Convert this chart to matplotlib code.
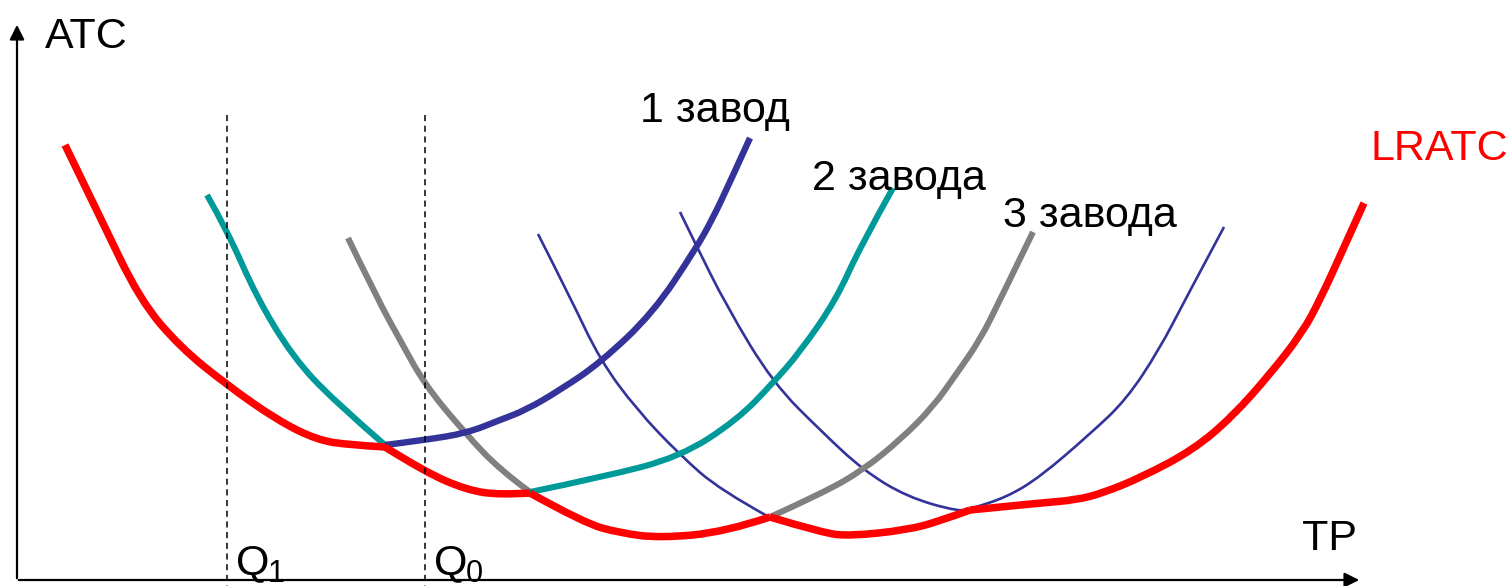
import matplotlib.pyplot as plt
from matplotlib.path import Path
from matplotlib.patches import PathPatch

# curve points (x = output, y = cost, screen units, y grows downward)
lratc_x = [65, 100, 140, 180, 227, 277, 317, 350, 385, 425, 467, 500, 530, 584, 620, 660,
           725, 770, 823, 850, 907, 940, 970, 1040, 1076, 1103, 1142, 1193, 1232, 1271, 1302,
           1320, 1345, 1364]
lratc_y = [145, 217, 300, 347, 385, 420, 440, 445, 447, 472, 490, 495, 493, 523, 533, 538,
           532, 517, 533, 536, 530, 521, 510, 503, 500, 493, 477, 450, 417, 373, 333,
           300, 245, 203]
# where the envelope touches the short-run curves
touch_x = [385, 530, 770, 970]

plant1_x = [385, 425, 467, 500, 526, 560, 600, 653, 695, 712, 730, 750]
plant1_y = [445, 440, 433, 420, 410, 390, 363, 313, 250, 220, 182, 138]

teal_left_x = [207, 227, 257, 293, 333, 385]
teal_left_y = [195, 230, 298, 357, 400, 445]
teal_right_x = [530, 603, 680, 737, 773, 800, 836, 860, 893]
teal_right_y = [492, 477, 457, 420, 383, 352, 300, 247, 188]

gray_left_x = [348, 377, 400, 425, 465, 500, 530]
gray_left_y = [238, 298, 340, 385, 433, 470, 492]
gray_right_x = [770, 823, 863, 900, 933, 957, 980, 1000, 1033]
gray_right_y = [517, 493, 470, 440, 407, 373, 340, 300, 232]

thinA_x = [538, 570, 600, 637, 680, 720, 769]
thinA_y = [234, 297, 360, 410, 455, 490, 517]
thinB_x = [680, 695, 727, 773, 823, 863, 907, 960, 973, 1007, 1040, 1090, 1126, 1159, 1185, 1224]
thinB_y = [212, 243, 307, 383, 433, 470, 497, 512, 508, 497, 477, 434, 400, 350, 300, 227]

q_pos = [227, 425]
q_names = ['1', '0']


def smooth_curve(ax, xs, ys, **kw):
    '''draws the points as a chain of quadratic beziers (through the midpoints) so it looks smooth'''
    pts = list(zip(xs, ys))
    verts = [pts[0]]
    codes = [Path.MOVETO]
    if len(pts) == 2:
        verts.append(pts[1])
        codes.append(Path.LINETO)
    for i in range(1, len(pts) - 1):
        mid = ((pts[i][0] + pts[i + 1][0]) / 2, (pts[i][1] + pts[i + 1][1]) / 2)
        if i == len(pts) - 2:
            mid = pts[-1]
        verts += [pts[i], mid]
        codes += [Path.CURVE3, Path.CURVE3]
    ax.add_patch(PathPatch(Path(verts, codes), fill=False, capstyle='butt', joinstyle='round', **kw))


fig = plt.figure(figsize=(15.12, 5.86), dpi=100)
ax = fig.add_axes([0, 0, 1, 1])
ax.set_xlim(0, 1512)
ax.set_ylim(586, 0)
ax.axis('off')

font = 'Liberation Sans'

# axes with arrows
ax.annotate('', xy=(17, 22), xytext=(17, 581),
            arrowprops=dict(arrowstyle='-|>', color='black', lw=1.6, mutation_scale=22))
ax.annotate('', xy=(1362, 580), xytext=(16, 580),
            arrowprops=dict(arrowstyle='-|>', color='black', lw=1.6, mutation_scale=22))

# dashed Q lines
for q, name in zip(q_pos, q_names):
    ax.plot([q, q], [115, 586], color='black', lw=1.1, ls=(0, (4, 3)))
    ax.text(q + 9, 574, 'Q', fontsize=31, family=font, ha='left', va='baseline')
    ax.text(q + 41, 582, name, fontsize=22, family=font, ha='left', va='baseline')

blue = '#333399'
teal = '#009999'
gray = '#808080'

smooth_curve(ax, thinA_x, thinA_y, edgecolor=blue, lw=1.9)
smooth_curve(ax, thinB_x, thinB_y, edgecolor=blue, lw=1.9)
smooth_curve(ax, gray_left_x, gray_left_y, edgecolor=gray, lw=4.4)
smooth_curve(ax, gray_right_x, gray_right_y, edgecolor=gray, lw=4.4)
smooth_curve(ax, teal_left_x, teal_left_y, edgecolor=teal, lw=4.4)
smooth_curve(ax, teal_right_x, teal_right_y, edgecolor=teal, lw=4.4)
smooth_curve(ax, plant1_x, plant1_y, edgecolor=blue, lw=4.6)

# LRATC drawn piece by piece between the touching points, which keeps the small kinks
cuts = [0] + [lratc_x.index(t) for t in touch_x] + [len(lratc_x) - 1]
for a, b in zip(cuts[:-1], cuts[1:]):
    smooth_curve(ax, lratc_x[a:b + 1], lratc_y[a:b + 1], edgecolor='#ff0000', lw=5.4)

# labels
ax.text(45, 48, 'ATC', fontsize=31, family=font, va='baseline')
ax.text(1302, 550, 'TP', fontsize=31, family=font, va='baseline')
ax.text(640, 122, '1 завод', fontsize=31, family=font, va='baseline')
ax.text(812, 190, '2 завода', fontsize=31, family=font, va='baseline')
ax.text(1003, 227, '3 завода', fontsize=31, family=font, va='baseline')
ax.text(1370, 160, 'LRATC', fontsize=31, family=font, color='#ff0000', va='baseline')

fig.savefig('out.png', dpi=100)
